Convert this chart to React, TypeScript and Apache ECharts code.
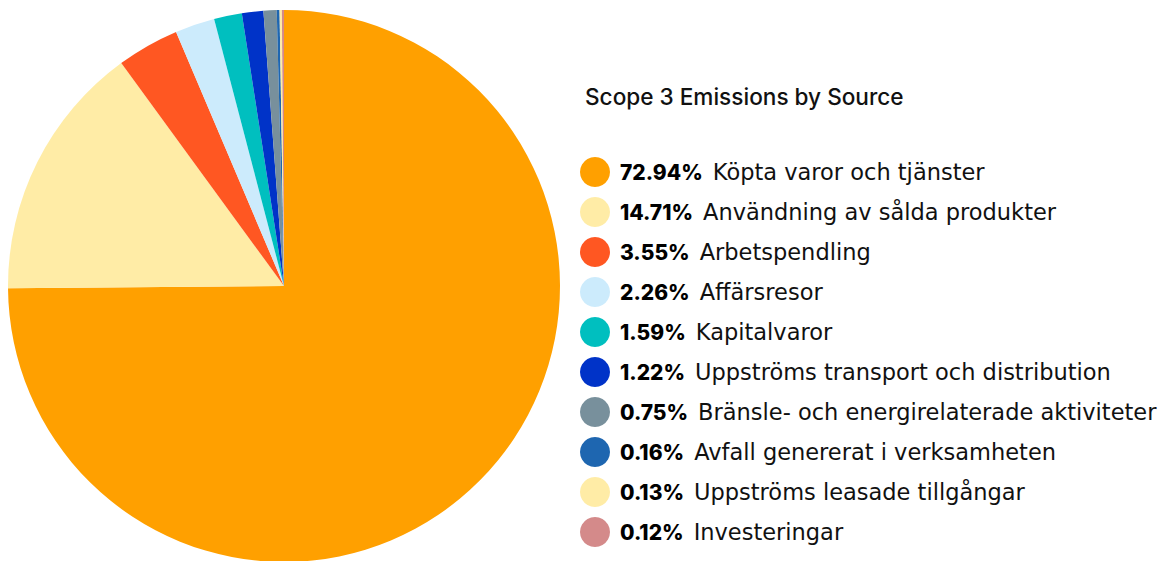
import React, { useEffect, useRef } from "react";
import * as echarts from "echarts";

const categories = [
  "Köpta varor och tjänster",
  "Användning av sålda produkter",
  "Arbetspendling",
  "Affärsresor",
  "Kapitalvaror",
  "Uppströms transport och distribution",
  "Bränsle- och energirelaterade aktiviteter",
  "Avfall genererat i verksamheten",
  "Uppströms leasade tillgångar",
  "Investeringar",
];
const values = [72.94, 14.71, 3.55, 2.26, 1.59, 1.22, 0.75, 0.16, 0.13, 0.12];
const colors = [
  "#FFA000",
  "#FFECA6",
  "#FF5722",
  "#CCEBFC",
  "#00BFBF",
  "#0033C8",
  "#78909C",
  "#1E66B0",
  "#FFECA6",
  "#D48A8A",
];
const title = "Scope 3 Emissions by Source";

export default function App() {
  const ref = useRef<HTMLDivElement>(null);
  useEffect(() => {
    document.body.style.margin = "0";
    const chart = echarts.init(ref.current!, null, { renderer: "svg" });
    const lookup: Record<string, number> = {};
    categories.forEach((c, i) => (lookup[c] = values[i]));
    chart.setOption({
      animation: false,
      title: {
        text: title,
        left: 585,
        top: 85,
        padding: 0,
        textStyle: {
          fontFamily: "Inter",
          fontSize: 22.6,
          fontWeight: 500,
          color: "#111111",
        },
      },
      legend: {
        orient: "vertical",
        left: 580,
        top: 157,
        padding: 0,
        icon: "circle",
        itemWidth: 30,
        itemHeight: 30,
        itemGap: 10,
        selectedMode: false,
        data: categories,
        formatter: (name: string) =>
          `{b|${lookup[name].toFixed(2)}%}{n|${name}}`,
        textStyle: {
          fontFamily: "DejaVu Sans",
          fontSize: 22.5,
          color: "#111111",
          rich: {
            b: {
              fontFamily: "Inter",
              fontSize: 21,
              fontWeight: 800,
              color: "#000000",
              padding: [0, 0, 0, 5],
            },
            n: {
              fontFamily: "DejaVu Sans",
              fontSize: 22.5,
              fontWeight: 400,
              color: "#111111",
              padding: [0, 0, 0, 10],
            },
          },
        },
      },
      series: [
        {
          type: "pie",
          center: [284, 286],
          radius: 276,
          startAngle: 90,
          clockwise: true,
          label: { show: false },
          labelLine: { show: false },
          emphasis: { disabled: true },
          data: categories.map((c, i) => ({
            name: c,
            value: values[i],
            itemStyle: { color: colors[i] },
          })),
        },
      ],
    });
    return () => chart.dispose();
  }, []);
  return <div ref={ref} style={{ width: 1171, height: 561 }} />;
}
